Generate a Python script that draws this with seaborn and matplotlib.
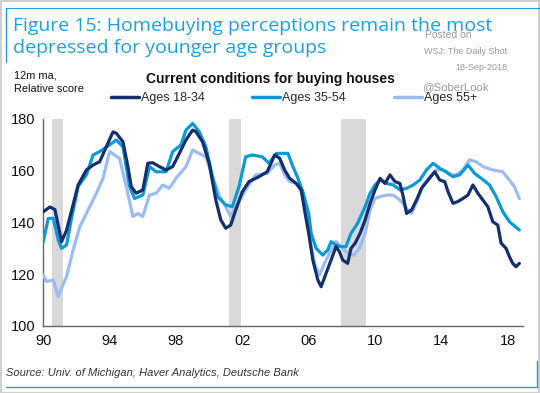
import numpy as np
import pandas as pd
import matplotlib
matplotlib.use("Agg")
import matplotlib.pyplot as plt
from matplotlib.lines import Line2D
from matplotlib.patches import Rectangle
import seaborn as sns

# ---------------- data ----------------
yr_1834 = [1990.0, 1990.4, 1990.7, 1991.1, 1991.4, 1992.1, 1992.6, 1993.0, 1993.4, 1993.8,
           1994.2, 1994.4, 1994.8, 1995.1, 1995.3, 1995.6, 1996.0, 1996.3, 1996.6, 1997.0,
           1997.4, 1997.8, 1998.2, 1998.6, 1999.0, 1999.2, 1999.6, 2000.0, 2000.4, 2000.7,
           2001.0, 2001.3, 2001.6, 2002.0, 2002.4, 2003.0, 2003.5, 2003.95, 2004.25, 2004.55,
           2004.85, 2005.25, 2005.55, 2005.75, 2006.0, 2006.25, 2006.55, 2006.75, 2007.05, 2007.35,
           2007.65, 2007.85, 2008.05, 2008.35, 2008.55, 2008.8, 2009.1, 2009.4, 2009.7, 2010.0,
           2010.3, 2010.6, 2010.9, 2011.2, 2011.5, 2011.7, 2011.9, 2012.2, 2012.5, 2012.8,
           2013.2, 2013.6, 2013.9, 2014.2, 2014.4, 2014.7, 2015.0, 2015.3, 2015.6, 2015.9,
           2016.2, 2016.5, 2016.8, 2017.1, 2017.4, 2017.6, 2017.9, 2018.1, 2018.3, 2018.5, 2018.7]
val_1834 = [144.2, 146.0, 145.0, 132.6, 137.0, 154.5, 160.3, 162.2, 163.5, 169.3,
            175.0, 174.5, 171.2, 161.6, 153.9, 151.3, 152.6, 162.9, 163.1, 161.6,
            160.3, 161.6, 166.7, 171.9, 175.7, 175.1, 171.2, 162.9, 148.7, 141.0,
            137.8, 139.0, 144.8, 151.9, 155.8, 157.7, 159.6, 166.1, 164.8, 160.3,
            157.1, 155.1, 152.6, 144.8, 135.8, 125.5, 117.8, 115.2, 120.4, 125.5,
            130.7, 128.7, 125.5, 124.2, 130.0, 132.0, 135.8, 141.0, 147.4, 152.6,
            157.1, 155.1, 158.4, 155.8, 155.1, 150.0, 143.5, 144.8, 148.7, 153.2,
            156.4, 159.6, 156.4, 155.8, 151.9, 147.4, 148.1, 149.3, 150.6, 154.5,
            151.3, 148.7, 146.1, 140.3, 139.0, 132.0, 130.0, 126.8, 124.2, 122.9, 124.2]

yr_3554 = [1990.0, 1990.3, 1990.6, 1990.9, 1991.1, 1991.4, 1991.7, 1992.1, 1992.6, 1993.0,
           1993.4, 1994.0, 1994.4, 1994.8, 1995.2, 1995.5, 1996.0, 1996.4, 1996.8, 1997.4,
           1997.8, 1998.3, 1998.6, 1999.0, 1999.4, 1999.8, 2000.2, 2000.5, 2001.0, 2001.4,
           2001.8, 2002.2, 2002.6, 2003.2, 2003.6, 2004.05, 2004.45, 2004.75, 2005.05, 2005.35,
           2005.65, 2006.0, 2006.15, 2006.45, 2006.85, 2007.15, 2007.35, 2007.65, 2007.95, 2008.25,
           2008.55, 2008.95, 2009.4, 2009.7, 2010.0, 2010.3, 2010.7, 2011.1, 2011.5, 2011.9,
           2012.3, 2012.7, 2013.1, 2013.5, 2013.9, 2014.3, 2014.7, 2015.1, 2015.6, 2016.0,
           2016.4, 2016.9, 2017.3, 2017.7, 2018.1, 2018.7]
val_3554 = [132.6, 141.6, 141.6, 133.3, 130.0, 131.3, 141.6, 153.9, 158.4, 166.1,
            167.4, 170.0, 171.9, 169.3, 153.9, 149.3, 150.6, 161.6, 159.6, 159.6,
            167.4, 170.0, 175.7, 178.3, 175.1, 169.3, 157.7, 150.0, 146.8, 146.1,
            153.9, 165.4, 166.1, 165.4, 162.9, 166.7, 166.7, 166.7, 161.6, 157.1,
            151.9, 143.5, 135.8, 130.0, 127.4, 129.4, 132.6, 131.3, 130.7, 130.7,
            135.8, 139.7, 146.1, 151.3, 154.5, 156.4, 155.1, 154.5, 152.6, 153.2,
            154.5, 156.4, 160.3, 162.9, 160.9, 159.6, 157.7, 158.4, 162.2, 159.0,
            157.1, 154.5, 150.0, 144.2, 140.3, 137.1]

yr_55 = [1990.0, 1990.2, 1990.6, 1990.9, 1991.1, 1991.4, 1991.8, 1992.2, 1992.7, 1993.2,
         1993.6, 1994.0, 1994.3, 1994.6, 1995.0, 1995.4, 1995.7, 1996.0, 1996.4, 1996.8,
         1997.2, 1997.6, 1998.0, 1998.6, 1999.0, 1999.4, 1999.8, 2000.2, 2000.6, 2001.1,
         2001.3, 2001.6, 2002.2, 2002.8, 2003.5, 2003.95, 2004.25, 2004.55, 2004.85, 2005.25,
         2005.55, 2005.85, 2006.05, 2006.35, 2006.65, 2006.95, 2007.25, 2007.65, 2007.95, 2008.35,
         2008.75, 2009.05, 2009.4, 2009.7, 2010.0, 2010.3, 2010.7, 2011.1, 2011.5, 2011.9,
         2012.2, 2012.6, 2012.9, 2013.3, 2013.7, 2014.1, 2014.5, 2014.9, 2015.3, 2015.7,
         2016.1, 2016.5, 2017.1, 2017.7, 2018.1, 2018.4, 2018.7]
val_55 = [119.7, 117.2, 117.8, 111.3, 114.6, 119.1, 129.4, 138.4, 144.8, 151.3,
          157.1, 167.4, 166.1, 164.8, 153.9, 142.3, 143.5, 142.3, 150.6, 151.3,
          154.5, 153.2, 157.1, 161.6, 168.0, 166.7, 165.4, 157.7, 150.6, 144.8,
          142.3, 146.1, 152.6, 158.4, 159.0, 162.2, 162.9, 158.4, 155.8, 155.1,
          151.9, 143.5, 134.5, 124.2, 119.7, 124.2, 128.1, 132.6, 130.7, 128.1,
          127.4, 130.0, 135.8, 144.8, 149.3, 150.0, 150.6, 150.6, 148.7, 145.5,
          143.5, 149.3, 154.5, 157.7, 160.3, 160.3, 158.4, 158.4, 160.3, 164.2,
          163.5, 161.6, 160.3, 159.6, 156.4, 153.9, 149.3]

series_names = ["Ages 18-34", "Ages 35-54", "Ages 55+"]
recessions = [(1990.55, 1991.2), (2001.2, 2001.9), (2007.95, 2009.45)]
x_ticks = [1990, 1994, 1998, 2002, 2006, 2010, 2014, 2018]
x_labels = ["90", "94", "98", "02", "06", "10", "14", "18"]
y_ticks = [100, 120, 140, 160, 180]

colors = ["#13306e", "#0b9ad6", "#9dbdf2"]

df = pd.concat([
    pd.DataFrame({"year": yr_1834, "value": val_1834, "series": series_names[0]}),
    pd.DataFrame({"year": yr_3554, "value": val_3554, "series": series_names[1]}),
    pd.DataFrame({"year": yr_55, "value": val_55, "series": series_names[2]}),
], ignore_index=True)

# ---------------- plot ----------------
sns.set_theme(style="white")
plt.rcParams["font.family"] = ["Liberation Sans", "DejaVu Sans"]

W, H = 540.0, 393.0
fig = plt.figure(figsize=(5.40, 3.93), dpi=100)
ax = fig.add_axes([43.3 / W, 1 - 326 / H, (523 - 43.3) / W, (326 - 119) / H])

for a, b in recessions:
    ax.axvspan(a, b, color="#d9d9d9", lw=0, zorder=0)

order = [series_names[2], series_names[1], series_names[0]]
pal = dict(zip(series_names, colors))
for name in order:
    sns.lineplot(data=df[df["series"] == name], x="year", y="value",
                 color=pal[name], lw=2.3, ax=ax, legend=False, zorder=3)

ax.set_xlim(1990, 2018.92)
ax.set_ylim(100, 180)
ax.set_xticks(x_ticks)
ax.set_xticklabels(x_labels)
ax.set_yticks(y_ticks)
ax.set_xlabel("")
ax.set_ylabel("")
for s in ["top", "right"]:
    ax.spines[s].set_visible(False)
for s in ["left", "bottom"]:
    ax.spines[s].set_color("#666666")
    ax.spines[s].set_linewidth(1.0)
ax.tick_params(axis="x", direction="out", length=3, width=1, color="#666666",
               labelsize=10.5, labelcolor="#111111", pad=3)
ax.tick_params(axis="y", direction="inout", length=5, width=1, color="#666666",
               labelsize=10.5, labelcolor="#111111", pad=3)
ax.grid(False)

def fy(y):
    return 1 - y / H

# titles
blue = "#1ba1e2"
fig.text(13 / W, fy(31), "Figure 15: Homebuying perceptions remain the most",
         color=blue, fontsize=14, family=["Open Sans", "DejaVu Sans"], ha="left", va="baseline")
fig.text(13 / W, fy(53), "depressed for younger age groups",
         color=blue, fontsize=14, family=["Open Sans", "DejaVu Sans"], ha="left", va="baseline")
fig.text(270 / W, fy(79), "Current conditions for buying houses", fontsize=10,
         fontweight="bold", ha="center", va="center", color="#111111")
fig.text(14 / W, fy(76), "12m ma,", fontsize=7.9, ha="left", va="center", color="#111111")
fig.text(14 / W, fy(89), "Relative score", fontsize=7.9, ha="left", va="center", color="#111111")

# watermark
wm = "#9a9a9a"
fig.text(425 / W, fy(35), "Posted on", fontsize=7.5, color=wm, ha="left", va="center")
fig.text(507 / W, fy(51), "WSJ: The Daily Shot", fontsize=6.5, color=wm, ha="right", va="center")
fig.text(507 / W, fy(67), "18-Sep-2018", fontsize=6.5, color=wm, ha="right", va="center")
fig.text(422 / W, fy(87), "@SoberLook", fontsize=8.2, color=wm, ha="left", va="center")

# legend
handles = [Line2D([0], [0], color=c, lw=2.5) for c in colors]
fig.legend(handles, series_names, loc="center", bbox_to_anchor=(294 / W, fy(98)), ncol=3,
           frameon=False, fontsize=9, handlelength=2.24, handletextpad=0.16,
           columnspacing=3.8, borderaxespad=0, borderpad=0)

# source
fig.text(6 / W, fy(373), "Source: Univ. of Michigan, Haver Analytics, Deutsche Bank",
         fontsize=8, style="italic", color="#333333", ha="left", va="center")

# frame decorations
fig.patches.append(Rectangle((0.001, 0.001), 0.997, 0.997, transform=fig.transFigure,
                             fill=False, ec="#d0d0d0", lw=1.5))
fig.add_artist(Line2D([6 / W, 6 / W], [fy(62), fy(8)], color=blue, lw=1, transform=fig.transFigure))
fig.add_artist(Line2D([6 / W, 1.0], [fy(8), fy(8)], color=blue, lw=0.8, transform=fig.transFigure))
fig.add_artist(Line2D([6 / W, 537 / W], [fy(387), fy(387)], color=blue, lw=1, transform=fig.transFigure))
fig.add_artist(Line2D([537 / W, 537 / W], [fy(387), fy(361)], color=blue, lw=1, transform=fig.transFigure))

fig.savefig("out.png", dpi=100)
